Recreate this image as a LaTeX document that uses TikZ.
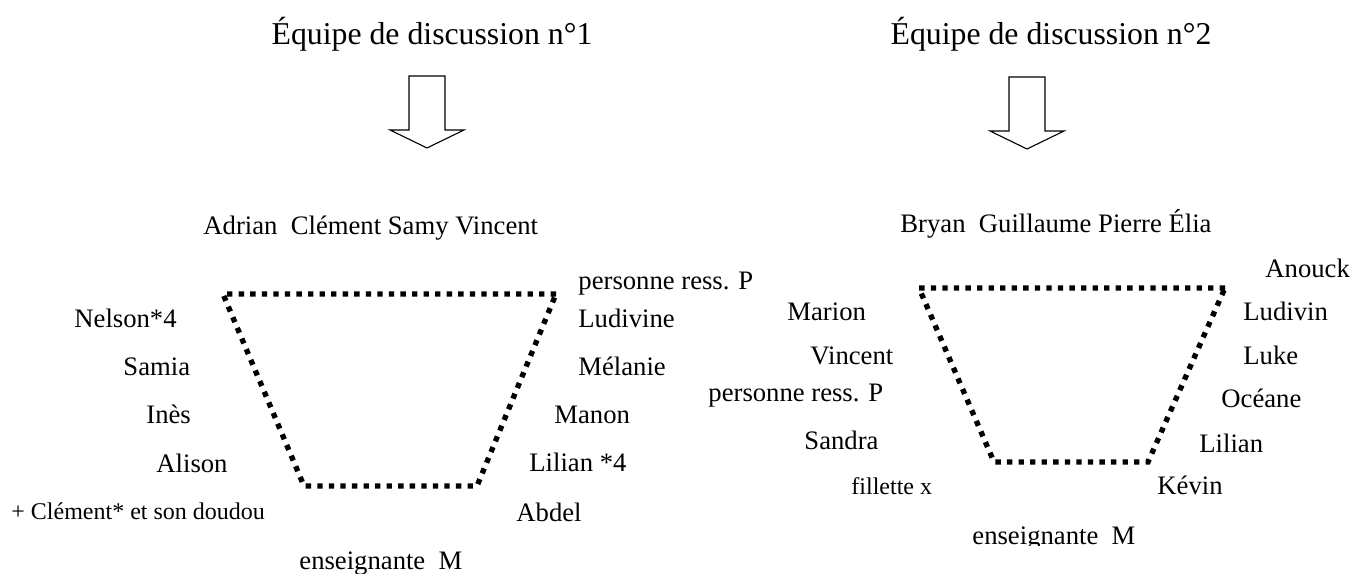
\documentclass[tikz,border=0pt]{standalone}
\usepackage{fontspec}
\setmainfont{Liberation Serif}
\newcommand{\hollowarrow}[2]{%
    \draw[line width=0.5pt] (#1-18,#2) -- (#1+18,#2) -- (#1+18,#2+54) -- (#1+37,#2+54)
        -- (#1,#2+72) -- (#1-37,#2+54) -- (#1-18,#2+54) -- cycle;}
\tikzset{
    title/.style={font=\fontsize{14.3}{16}\selectfont, inner sep=0pt, anchor=base},
    member/.style={font=\fontsize{12}{14}\selectfont, inner sep=0pt, anchor=base west},
    small member/.style={font=\fontsize{10.8}{12}\selectfont, inner sep=0pt, anchor=base west},
    circle line/.style={line width=2.4pt, dash pattern=on 2.4pt off 2.8pt}
}
\begin{document}
\begin{tikzpicture}[x=0.45pt, y=-0.45pt]
        \useasboundingbox (0,0) rectangle (1350,574);
        \node[title] (titleA) at (432,45) {Équipe de discussion n°1};
        \node[title] (titleB) at (1051,45) {Équipe de discussion n°2};
        \hollowarrow{427}{76}
        \hollowarrow{1027}{77}
        \foreach \who/\x/\y [count=\i] in {Adrian~~Clément Samy Vincent/203/235,
            personne ress. P/578/290, Nelson*4/74/328, Ludivine/578/328,
            Samia/123/376, Mélanie/578/376, Inès/146/424, Manon/554/424,
            Alison/156/473, Lilian *4/529/472, Abdel/516/522, enseignante~~M/299/570} {
            \node[member] (teamA\i) at (\x,\y) {\who};
        }
        \node[small member] (teamAextra) at (11,520) {+ Clément* et son doudou};
        \foreach \who/\x/\y [count=\i] in {Bryan~~Guillaume Pierre Élia/900/233,
            Anouck/1265/278, Marion/787/321, Ludivin/1243/321, Vincent/810/365,
            Luke/1243/365, personne ress. P/708/402, Océane/1221/408,
            Sandra/804/450, Lilian/1199/453, Kévin/1157/495} {
            \node[member] (teamB\i) at (\x,\y) {\who};
        }
        \node[small member] (teamBextra) at (851,495) {fillette x};
        \begin{scope}
            \clip (950,500) rectangle (1150,546);
            \node[member] (teamBteacher) at (972,545) {enseignante~~M};
        \end{scope}
        \draw[circle line] (556,294) -- (223,294) -- (304,486) -- (477,486) -- cycle;
        \draw[circle line] (1225,288) -- (919,288) -- (994,462) -- (1148,462) -- cycle;
    \end{tikzpicture}
\end{document}
